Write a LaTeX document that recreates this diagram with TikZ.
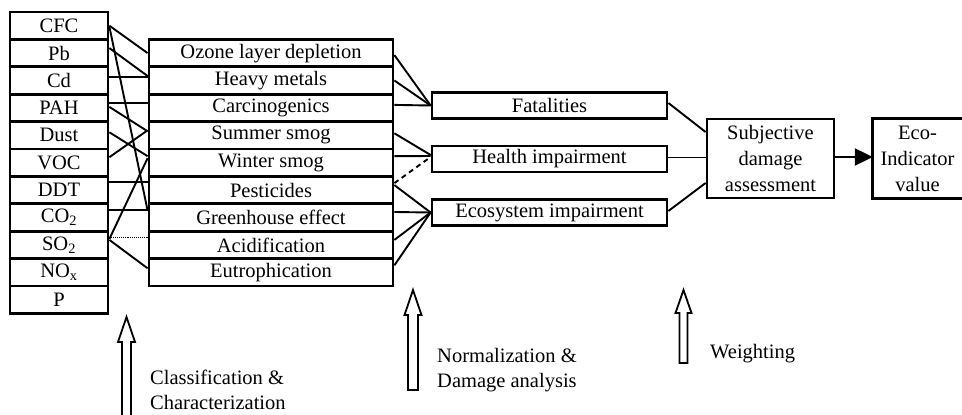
\documentclass[tikz,border=0pt]{standalone}
\usepackage{fontspec}
\setmainfont{Liberation Serif}
\usetikzlibrary{arrows.meta}

\begin{document}
\begin{tikzpicture}[x=1pt,y=-1pt,
  every node/.style={font=\fontsize{20.5}{26}\selectfont, inner sep=0pt},
  cell/.style={draw, line width=2.8pt, rectangle, minimum height=27.4pt},
  lcell/.style={cell, minimum width=98pt},
  mcell/.style={cell, minimum width=244pt},
  rbox/.style={draw, line width=2.8pt, minimum width=235pt, minimum height=26pt},
  link/.style={line width=1.9pt},
  thinlink/.style={line width=0.9pt, densely dotted},
  dlink/.style={link, dash pattern=on 5pt off 4pt},
  hollow/.style={line width=1.8pt, fill=white},
  lbl/.style={anchor=west, align=left, font=\fontsize{20.5}{24.5}\selectfont}
]
\useasboundingbox (0,0) rectangle (962,415);

% left column: substances
\node[lcell] (cfc)  at (59,25.7)  {CFC};
\node[lcell] (pb)   at (59,53.1)  {Pb};
\node[lcell] (cd)   at (59,80.5)  {Cd};
\node[lcell] (pah)  at (59,107.9) {PAH};
\node[lcell] (dust) at (59,135.3) {Dust};
\node[lcell] (voc)  at (59,162.7) {VOC};
\node[lcell] (ddt)  at (59,190.1) {DDT};
\node[lcell] (co2)  at (59,217.5) {CO\textsubscript{2}};
\node[lcell] (so2)  at (59,244.9) {SO\textsubscript{2}};
\node[lcell] (nox)  at (59,272.3) {NO\textsubscript{x}};
\node[lcell] (p)    at (59,299.7) {P};

% middle column: effects
\node[mcell] (ozone)  at (271,53.1)  {Ozone layer depletion};
\node[mcell] (heavy)  at (271,80.5)  {Heavy metals};
\node[mcell] (carc)   at (271,107.9) {Carcinogenics};
\node[mcell] (summer) at (271,135.3) {Summer smog};
\node[mcell] (winter) at (271,162.7) {Winter smog};
\node[mcell] (pest)   at (271,190.1) {Pesticides};
\node[mcell] (green)  at (271,217.5) {Greenhouse effect};
\node[mcell] (acid)   at (271,244.9) {Acidification};
\node[mcell] (eutro)  at (271,272.3) {Eutrophication};

% damage boxes
\node[rbox] (fat)    at (549.5,105.5) {Fatalities};
\node[rbox] (health) at (549.5,159)   {Health impairment};
\node[rbox] (eco)    at (549.5,212.5) {Ecosystem impairment};

\node[draw, line width=2.8pt, minimum width=127pt, minimum height=79pt, align=center] (subj) at (770.5,158.5) {Subjective\\damage\\assessment};
\node[minimum width=89pt, minimum height=79pt, align=center] (ecoind) at (917.5,158.5) {Eco-\\Indicator\\value};
\draw[line width=2.8pt] (ecoind.north east) -- (ecoind.north west) -- (ecoind.south west) -- (ecoind.south east);

% substances -> effects
\draw[link] (cfc.east) -- (ozone.west);
\draw[link] ([yshift=-1pt]cfc.east) -- ([yshift=7pt]green.west);
\draw[link] ([yshift=5pt]pb.east) -- ([yshift=4.5pt]heavy.west);
\draw[link] ([yshift=3.5pt]cd.east) -- ([yshift=3.5pt]heavy.west);
\draw[link] ([yshift=5pt]pah.east) -- ([yshift=5pt]carc.west);
\draw[link] ([yshift=1pt]pah.east) -- ([yshift=4pt]summer.west);
\draw[link] ([yshift=3pt]dust.east) -- ([yshift=6.5pt]winter.west);
\draw[link] ([yshift=5.5pt]voc.east) -- ([yshift=5pt]summer.west);
\draw[link] ([yshift=8pt]ddt.east) -- ([yshift=8pt]pest.west);
\draw[link] ([yshift=7.5pt]co2.east) -- ([yshift=7.5pt]green.west);
\draw[link] ([yshift=6pt]so2.east) -- ([yshift=4.5pt]winter.west);
\draw[link] ([yshift=5pt]so2.east) -- ([yshift=4pt]eutro.west);
\draw[thinlink] ([yshift=7pt]so2.east) -- ([yshift=7pt]acid.west);

% effects -> damages
\draw[link] ([yshift=-2pt]ozone.east) -- (fat.west);
\draw[link] (heavy.east) -- (fat.west);
\draw[link] ([yshift=3pt]carc.east) -- (fat.west);
\draw[link] ([yshift=2pt]summer.east) -- ([yshift=4pt]health.west);
\draw[link] ([yshift=6.5pt]winter.east) -- ([yshift=3pt]health.west);
\draw[dlink] ([yshift=7pt]pest.east) -- ([yshift=2pt]health.west);
\draw[link] ([yshift=5pt]pest.east) -- (eco.west);
\draw[link] ([yshift=5.5pt]green.east) -- (eco.west);
\draw[link] ([yshift=5pt]acid.east) -- (eco.west);
\draw[link] ([yshift=7pt]eutro.east) -- (eco.west);

% damages -> assessment
\draw[link] ([yshift=2.5pt]fat.east) -- ([yshift=26.5pt]subj.west);
\draw[link] ([yshift=1.5pt]health.east) -- ([yshift=1pt]subj.west);
\draw[link] ([yshift=1.5pt]eco.east) -- ([yshift=-24.5pt]subj.west);
\draw[line width=2.2pt, -{Triangle[length=18pt,width=17pt]}] ([yshift=1.5pt]subj.east) -- ([yshift=1.5pt]ecoind.west);

% hollow step arrows
\draw[hollow] (122,415) -- (122,342) -- (118,342) -- (126.5,317) -- (135,342) -- (131,342) -- (131,415);
\draw[hollow] (408,390) -- (408,315) -- (404.5,315) -- (413,290) -- (421.5,315) -- (418,315) -- (418,390) -- cycle;
\draw[hollow] (679.5,363) -- (679.5,313) -- (675.5,313) -- (683.5,290) -- (691.5,313) -- (687.5,313) -- (687.5,363) -- cycle;

% step labels
\node[lbl] (l1) at (150,390) {Classification \&\\Characterization};
\node[lbl] (l2) at (437,370) {Normalization \&\\Damage analysis};
\node[lbl] (l3) at (710,354) {Weighting};
\end{tikzpicture}
\end{document}
